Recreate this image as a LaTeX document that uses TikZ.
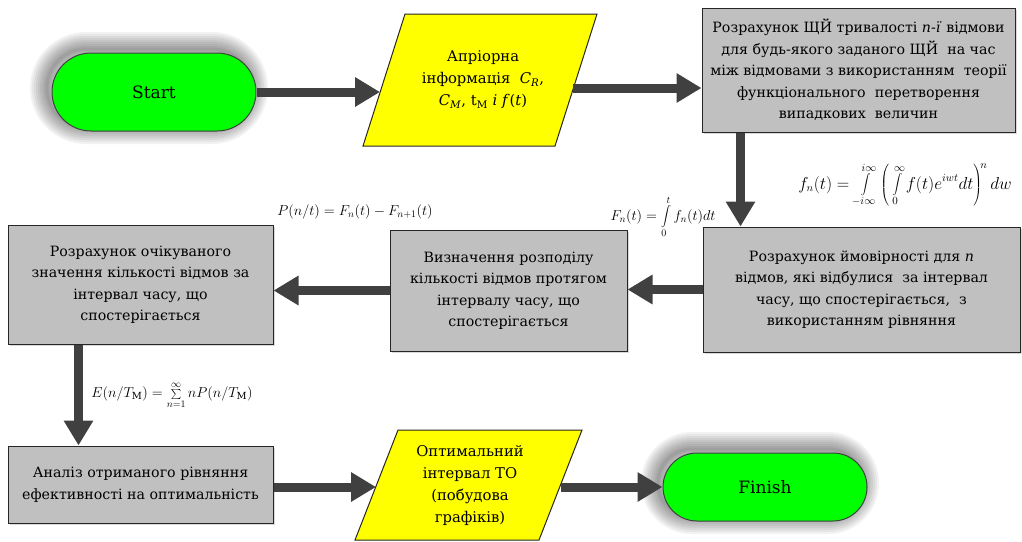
\documentclass[tikz,border=0pt]{standalone}
\usepackage{fontspec}
\setmainfont{DejaVu Serif}
\usetikzlibrary{arrows.meta,shadows}
\definecolor{arrowgray}{HTML}{404040}
\definecolor{boxgray}{HTML}{C0C0C0}
\definecolor{termgreen}{HTML}{00FF00}
\definecolor{ioyellow}{HTML}{FFFF00}
\begin{document}
\begin{tikzpicture}[x=1pt,y=-1pt,
  base/.style={font=\fontsize{14.2}{21.5}\selectfont, align=center, inner sep=0pt, draw=black!85, line width=1pt},
  procbox/.style={base, rectangle, fill=boxgray, drop shadow={opacity=0.3,shadow xshift=2pt,shadow yshift=-2pt}},
  iotext/.style={font=\fontsize{14.8}{22}\selectfont, align=center, inner sep=0pt},
  ioshape/.style={draw=black!85, line width=1pt, fill=ioyellow},
  glowlayer/.style={drop shadow={shadow xshift=-5pt,shadow yshift=4pt,opacity=0.05,fill=none,draw=black,line width=#1}},
  term/.style={base, font=\fontsize{17}{21}\selectfont, rectangle, fill=termgreen, draw=black!75,
     glowlayer=34pt, glowlayer=30pt, glowlayer=26pt, glowlayer=22pt, glowlayer=18pt,
     glowlayer=14pt, glowlayer=10pt, glowlayer=6pt, glowlayer=3pt},
  flow/.style={draw=arrowgray, line width=9pt, -{Triangle[width=28pt,length=25pt]}},
  formula/.style={inner sep=0pt, font=\fontsize{14}{16}\selectfont}
]
\useasboundingbox (0,0) rectangle (1022,541);

% terminals
\node[term, minimum width=204pt, minimum height=78pt, rounded corners=39pt] (start) at (154,92) {Start};
\node[term, minimum width=204pt, minimum height=68pt, rounded corners=34pt] (finish) at (765,487) {Finish};

% input/output parallelograms
\coordinate (p1tl) at (405,14);  \coordinate (p1tr) at (597,14);
\coordinate (p1br) at (555,146); \coordinate (p1bl) at (363,146);
\draw[ioshape] (p1bl) -- (p1tl) -- (p1tr) -- (p1br) -- cycle;
\node[iotext] (para1) at (483,80)
  {Апріорна\\інформація~~\textit{C}\textsubscript{\textit{R}},\\\textit{C}\textsubscript{\textit{M}}, t\textsubscript{M} \textit{і} \textit{f}(\textit{t})};
\coordinate (p1in) at (380,93);
\coordinate (p1out) at (573,88);

\coordinate (p2tl) at (398,430); \coordinate (p2tr) at (582,430);
\coordinate (p2br) at (539,540); \coordinate (p2bl) at (355,540);
\draw[ioshape] (p2bl) -- (p2tl) -- (p2tr) -- (p2br) -- cycle;
\node[iotext] (para2) at (470,486)
  {Оптимальний\\інтервал ТО\\(побудова\\графіків)};
\coordinate (p2in) at (376,487);
\coordinate (p2out) at (561,487);

% process boxes
\node[procbox, minimum width=313pt, minimum height=124pt] (box1) at (858.5,70)
  {Розрахунок ЩЙ тривалості \textit{n-ї} відмови\\для будь-якого заданого ЩЙ~ на час\\між відмовами з використанням~ теорії\\функціонального~ перетворення\\випадкових~ величин};
\node[procbox, minimum width=317pt, minimum height=125pt] (box2) at (861.5,289.5)
  {Розрахунок ймовірності для \textit{n}\\відмов, які відбулися~ за інтервал\\часу, що спостерігається,~ з\\використанням рівняння};
\node[procbox, minimum width=237pt, minimum height=121pt] (box3) at (508.5,290.5)
  {Визначення розподілу\\кількості відмов протягом\\інтервалу часу, що\\спостерігається};
\node[procbox, minimum width=265pt, minimum height=119pt] (box4) at (140.5,284.5)
  {Розрахунок очікуваного\\значення кількості відмов за\\інтервал часу, що\\спостерігається};
\node[procbox, minimum width=265pt, minimum height=77pt] (box5) at (140.5,484.5)
  {Аналіз отриманого рівняння\\ефективності на оптимальність};

% formulas
\node[formula, font=\fontsize{16}{18}\selectfont] (fnform) at (905,185)
  {$f_n(t)=\displaystyle\int\limits_{-i\infty}^{\,i\infty}\left(\,\int\limits_0^{\infty} f(t)e^{iwt}dt\right)^{\!n} dw$};
\node[formula] (Fnform) at (663,217)
  {$F_n(t)=\displaystyle\int\limits_0^t f_n(t)dt$};
\node[formula] (pform) at (355,212)
  {$P(n/t)=F_n(t)-F_{n+1}(t)$};
\node[formula] (eform) at (172,395)
  {$E(n/T_{\mathrm{M}})=\sum\limits_{n=1}^{\infty} nP(n/T_{\mathrm{M}})$};

% connectors
\draw[flow] (start.east) -- (start.east -| p1in);
\draw[flow] (p1out) -- (p1out -| box1.west);
\draw[flow] ([xshift=-118pt]box1.south) -- ([xshift=-118pt]box1.south |- box2.north);
\draw[flow] (box2.west) -- (box2.west -| box3.east);
\draw[flow] (box3.west) -- (box3.west -| box4.east);
\draw[flow] ([xshift=-62pt]box4.south) -- ([xshift=-62pt]box4.south |- box5.north);
\draw[flow] (box5.east |- p2in) -- (p2in);
\draw[flow] (p2out) -- (p2out -| finish.west);
\end{tikzpicture}
\end{document}
